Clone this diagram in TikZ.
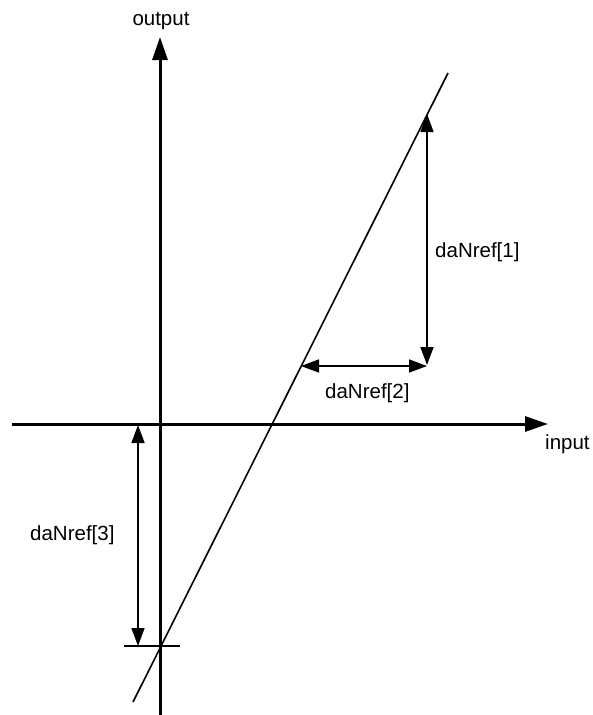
\documentclass[tikz,border=0pt]{standalone}
\usepackage{fontspec}
\setmainfont{Liberation Sans}
\usetikzlibrary{arrows.meta}
\tikzset{
  axis/.style={line width=3pt, -{Triangle[length=23pt,width=15pt]}},
  thin/.style={line width=1.6pt},
  dim/.style={line width=1.6pt, {Triangle[length=18pt,width=13pt]}-{Triangle[length=18pt,width=13pt]}},
  lbl/.style={inner sep=0pt, font=\fontsize{20.5}{24}\selectfont}
}
\begin{document}
\begin{tikzpicture}[x=1pt,y=-1pt]
\useasboundingbox (0,0) rectangle (592,715);
% axes
\coordinate (ybot) at (160,715);
\coordinate (ytop) at (160,37);
\coordinate (xl) at (12,424);
\coordinate (xr) at (548,424);
\draw[axis] (ybot) -- (ytop);
\draw[axis] (xl) -- (xr);
\node[lbl, anchor=base] (out) at (161,25) {output};
\node[lbl, anchor=base west] (in) at (545,449) {input};
% characteristic line
\coordinate (lb) at (133,702);
\coordinate (lt) at (448,73);
\draw[thin] (lb) -- (lt);
% tick at the output-axis intercept
\coordinate (tl) at (124,646);
\coordinate (tr) at (180,646);
\draw[thin] (tl) -- (tr);
% daNref[1]
\coordinate (a1t) at (427,114);
\coordinate (a1b) at (427,365);
\draw[dim] (a1t) -- (a1b);
\node[lbl, anchor=base west] (l1) at (435,257) {daNref[1]};
% daNref[2]
\coordinate (a2l) at (301,366);
\coordinate (a2r) at (427,366);
\draw[dim] (a2l) -- (a2r);
\node[lbl, anchor=base west] (l2) at (325,398) {daNref[2]};
% daNref[3]
\coordinate (a3t) at (138,425);
\coordinate (a3b) at (138,646);
\draw[dim] (a3t) -- (a3b);
\node[lbl, anchor=base west] (l3) at (30,540) {daNref[3]};
\end{tikzpicture}
\end{document}
